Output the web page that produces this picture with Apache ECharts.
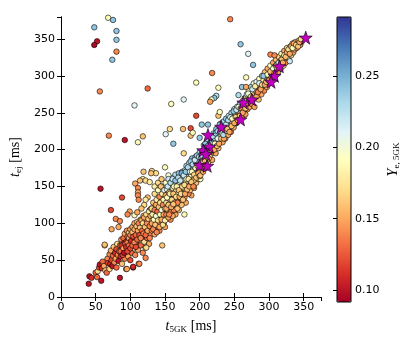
<!DOCTYPE html>
<html>
<head>
<meta charset="utf-8">
<script src="https://cdn.jsdelivr.net/npm/echarts@6/dist/echarts.min.js"></script>
<style>
  html, body { margin: 0; padding: 0; background: #fff; }
  #chart { width: 407px; height: 339px; }
</style>
</head>
<body>
<div id="chart"></div>
<script>
// [t_5GK, t_ej, Ye_5GK]
const lowBand = [
  [40,18,0.10],[41,28,0.10],[44,26,0.11],[50,33,0.13],[52,27,0.13],[53,35,0.17],[55,40,0.12],[56,44,0.10],[58,22,0.10],[59,39,0.11],
  [60,48,0.13],[62,42,0.15],[63,70,0.16],[64,36,0.16],[66,33,0.13],[67,52,0.14],[68,46,0.12],[70,38,0.17],[70,58,0.14],[71,45,0.11],
  [72,63,0.15],[73,50,0.12],[74,42,0.10],[75,56,0.13],[76,68,0.16],[77,47,0.14],[78,60,0.11],[79,52,0.15],[80,65,0.12],[80,40,0.13],
  [81,72,0.17],[82,57,0.14],[83,49,0.10],[84,62,0.13],[85,26,0.10],[85,70,0.15],[86,55,0.11],[87,78,0.14],[88,63,0.12],[88,45,0.16],
  [89,68,0.14],[90,58,0.18],[90,80,0.13],[91,73,0.11],[92,52,0.14],[92,86,0.15],[93,65,0.13],[94,38,0.14],[94,75,0.12],[95,60,0.16],
  [95,90,0.14],[96,82,0.13],[97,55,0.15],[97,70,0.11],[98,87,0.17],[99,64,0.14],[99,78,0.13],[100,92,0.15],[100,50,0.12],[101,72,0.16],
  [102,84,0.14],[102,60,0.13],[103,95,0.15],[104,40,0.10],[104,76,0.14],[105,88,0.12],[105,66,0.18],[106,100,0.15],[107,80,0.13],[107,57,0.14],
  [108,92,0.16],[109,72,0.12],[110,85,0.14],[110,102,0.17],[111,64,0.15],[112,45,0.14],[112,95,0.13],[113,78,0.16],[114,88,0.14],[115,105,0.15],
  [115,70,0.13],[116,98,0.18],[117,82,0.12],[118,92,0.15],[118,60,0.14],[119,110,0.16],[120,75,0.17],[120,100,0.13],[121,88,0.14],[122,53,0.14],
  [122,67,0.16],[123,105,0.15],[123,95,0.18],[124,80,0.13],[125,112,0.14],[126,90,0.16],[127,72,0.15],[127,100,0.17],[128,118,0.15],[129,85,0.14],
  [130,108,0.16],[130,95,0.13],[72,118,0.12],[88,135,0.12],[99,116,0.15],[106,111,0.19],[73,92,0.15],[83,95,0.15],[57,147,0.10],[95,38,0.15],
  [104,41,0.11],[113,45,0.14],[123,67,0.17],[96,112,0.14],[125,112,0.15],[63,71,0.16],[79,106,0.14],[85,103,0.14]
];
const lowFill = [
  [86,62,0.13],[87,70,0.11],[89,57,0.12],[90,66,0.15],[91,60,0.10],[93,72,0.13],[94,68,0.11],[96,74,0.14],[96,62,0.12],[98,70,0.13],
  [98,80,0.15],[100,66,0.12],[100,84,0.14],[101,76,0.11],[103,70,0.13],[103,88,0.16],[104,82,0.12],[106,74,0.14],[106,92,0.15],[108,84,0.13],
  [108,68,0.12],[109,96,0.16],[110,78,0.13],[111,90,0.15],[112,100,0.14],[113,84,0.12],[114,94,0.16],[115,80,0.14],[116,104,0.15],[117,90,0.13],
  [118,100,0.17],[119,86,0.14],[120,108,0.15],[121,95,0.16],[122,84,0.13],[123,112,0.17],[124,100,0.14],[125,90,0.15],[126,106,0.16],[127,116,0.18],
  [128,96,0.14],[129,110,0.15],[130,120,0.17],[131,90,0.14],[132,104,0.16],[133,118,0.15],[134,96,0.13],[135,110,0.17],[136,124,0.16],[137,100,0.15],
  [138,114,0.14],[139,128,0.18],[140,95,0.14],[141,110,0.16],[142,124,0.15],[143,100,0.14],[144,116,0.17],[145,132,0.16],[146,108,0.15],[147,120,0.18],
  [148,100,0.14],[149,126,0.16],[150,112,0.17],[150,138,0.18],
  [120,125,0.17],[125,135,0.16],[135,150,0.18],[140,155,0.17],[128,80,0.14],[135,85,0.15],[142,90,0.14],[150,95,0.15],[158,105,0.14],[165,112,0.15],
  [170,118,0.16],[180,128,0.15],[188,138,0.15],[145,150,0.19],[155,165,0.20],[116,120,0.16],[110,115,0.15]
];
const midBand = [
  [131,100,0.15],[131,120,0.17],[132,112,0.18],[133,92,0.14],[133,128,0.16],[134,105,0.19],[135,118,0.14],[135,140,0.17],[136,98,0.16],[137,110,0.20],
  [137,125,0.15],[138,88,0.14],[138,132,0.18],[139,116,0.13],[140,104,0.17],[140,145,0.19],[141,122,0.16],[142,95,0.15],[142,136,0.14],[143,112,0.19],
  [143,128,0.17],[144,150,0.16],[145,105,0.15],[145,118,0.20],[146,140,0.18],[146,70,0.16],[147,125,0.14],[147,98,0.17],[148,132,0.19],[148,112,0.15],
  [149,145,0.21],[150,120,0.16],[150,104,0.18],[151,138,0.15],[151,155,0.19],[152,128,0.17],[152,112,0.14],[153,146,0.20],[154,118,0.16],[154,135,0.18],
  [155,108,0.15],[155,160,0.22],[156,126,0.19],[156,142,0.16],[157,150,0.17],[158,115,0.14],[158,132,0.20],[159,156,0.23],[160,124,0.16],[160,140,0.18],
  [161,110,0.15],[161,148,0.19],[162,162,0.21],[162,130,0.17],[163,118,0.14],[164,152,0.20],[164,138,0.16],[165,126,0.18],[165,166,0.23],[166,145,0.17],
  [167,132,0.15],[167,158,0.22],[168,120,0.16],[168,150,0.19],[169,140,0.18],[170,168,0.24],[170,128,0.15],[171,155,0.20],[172,145,0.16],[172,135,0.18],
  [173,162,0.22],[174,150,0.17],[174,125,0.16],[175,170,0.23],[175,140,0.19],
  [176,158,0.21],[177,148,0.16],[178,165,0.24],[178,135,0.15],[179,172,0.22],[180,155,0.18],[180,142,0.16],[181,178,0.23],[182,162,0.20],[183,150,0.15],
  [184,170,0.25],[184,140,0.14],[185,182,0.22],[186,158,0.17],[186,145,0.16],[187,175,0.23],[188,165,0.19],[189,188,0.24],[189,152,0.15],[190,172,0.21],
  [191,160,0.16],[191,184,0.25],[192,148,0.15],[193,176,0.22],[194,165,0.18],[194,190,0.24],[195,155,0.16],[196,182,0.23],[197,170,0.19],[198,192,0.22],
  [198,160,0.15],[199,185,0.24],[200,172,0.17],[200,196,0.23],[201,160,0.19],[191,158,0.17]
];
const midFill = [
  [152,120,0.15],[153,135,0.19],[154,150,0.22],[155,125,0.16],[156,112,0.14],[157,140,0.18],[158,155,0.23],[159,122,0.15],[160,132,0.17],[161,160,0.22],
  [162,140,0.16],[163,150,0.19],[164,128,0.15],[165,158,0.24],[166,136,0.17],[167,150,0.18],[168,128,0.14],[169,162,0.23],[170,145,0.16],[171,136,0.15],
  [172,158,0.22],[173,140,0.17],[174,168,0.25],[175,150,0.18],[176,132,0.16],[177,165,0.22],[178,152,0.17],[179,140,0.15],[180,170,0.24],[181,160,0.19],
  [182,146,0.16],[183,176,0.23],[184,160,0.18],[185,150,0.15],[186,170,0.21],[187,184,0.24],[188,156,0.16],[189,170,0.19],[190,180,0.23],[191,150,0.14],
  [192,166,0.17],[193,186,0.22],[194,175,0.19],[195,162,0.16],[196,192,0.24],[197,178,0.18],[198,168,0.15],[199,190,0.23],[200,180,0.18],[200,164,0.15]
];
const upperBand = [
  [201,165,0.16],[202,188,0.22],[203,178,0.18],[204,198,0.24],[205,170,0.15],[205,186,0.20],[206,206,0.23],[207,180,0.17],[208,194,0.22],[209,175,0.15],
  [210,202,0.24],[210,188,0.19],[211,212,0.23],[212,182,0.16],[213,196,0.21],[214,208,0.25],[215,190,0.17],[216,215,0.22],[217,200,0.19],[218,186,0.15],
  [219,210,0.24],[220,196,0.16],[220,222,0.23],[221,205,0.20],[222,215,0.22],[223,195,0.15],[224,228,0.24],[225,210,0.18],[226,220,0.23],[227,202,0.16],
  [228,225,0.21],[229,212,0.15],[230,235,0.24],[230,218,0.19],[232,228,0.22],[233,210,0.15],[234,238,0.23],[235,222,0.17],[236,230,0.20],[237,215,0.14],
  [238,242,0.24],[239,226,0.16],[240,235,0.21],[241,220,0.15],[242,246,0.22],[243,230,0.17],[244,238,0.19],[245,224,0.14],[246,250,0.23],[247,236,0.16],
  [248,244,0.20],[249,230,0.15],[250,255,0.22],[251,240,0.17],[252,248,0.15],[253,236,0.14],[254,258,0.21],[255,245,0.16],[256,252,0.18],[257,240,0.15],
  [258,262,0.23],[259,250,0.16],
  [202,176,0.15],[203,192,0.23],[204,184,0.17],[206,196,0.22],[207,186,0.16],[208,208,0.24],[209,198,0.19],[211,190,0.15],[212,205,0.22],[213,188,0.16],
  [215,200,0.20],[216,210,0.24],[218,198,0.16],[219,218,0.23],[221,200,0.15],[222,208,0.19],[223,222,0.24],[225,205,0.16],[226,215,0.21],[228,208,0.15],
  [229,230,0.23],[231,215,0.16],[232,222,0.20],[234,230,0.24],[235,215,0.15],[237,225,0.18],[238,234,0.22],[240,228,0.16],[241,240,0.23],[243,224,0.15],
  [244,244,0.22],[246,232,0.16],[247,242,0.19],[249,252,0.24],[250,236,0.15],[252,244,0.17],[253,254,0.22],[255,240,0.15],[256,258,0.20],[258,246,0.16],
  [259,256,0.21]
];
const topBand = [
  [260,256,0.15],[261,244,0.14],[262,266,0.20],[263,252,0.16],[264,260,0.14],[265,270,0.18],[266,248,0.15],[267,262,0.16],[268,275,0.22],[269,255,0.14],
  [270,266,0.17],[271,280,0.19],[272,258,0.15],[273,272,0.16],[274,285,0.23],[275,262,0.14],[276,276,0.18],[277,268,0.15],[278,290,0.20],[279,258,0.15],
  [280,280,0.16],[281,270,0.14],[282,292,0.21],[283,276,0.15],[284,285,0.17],[285,268,0.16],[286,296,0.19],[287,282,0.14],[288,290,0.16],[289,275,0.15],
  [290,300,0.22],[291,285,0.15],[292,294,0.18],[293,280,0.14],[294,305,0.16],[295,290,0.15],[296,298,0.20],[297,285,0.16],[298,310,0.15],[299,295,0.14],
  [300,302,0.17],[301,290,0.15],[302,314,0.19],[303,298,0.16],[304,306,0.14],[305,295,0.18],[306,318,0.15],[307,304,0.16],[308,312,0.21],[309,300,0.15],
  [310,322,0.16],[311,308,0.14],[312,316,0.18],[313,305,0.15],[314,326,0.17],[315,312,0.15],[316,320,0.14],[317,310,0.16],[318,330,0.19],[319,318,0.15],
  [320,325,0.16],[321,314,0.17],[322,334,0.15],[323,322,0.18],[324,318,0.14],[325,330,0.16],[326,338,0.17],[327,324,0.15],[328,325,0.19],[329,332,0.16],
  [330,320,0.22],[331,340,0.15],[332,328,0.17],[333,336,0.14],[334,344,0.16],[335,332,0.15],[336,340,0.18],[337,336,0.15],[338,346,0.16],[340,338,0.14],
  [341,344,0.15],[343,348,0.17],[345,342,0.15],[347,346,0.16],
  [262,250,0.15],[264,266,0.21],[266,256,0.16],[268,262,0.15],[270,276,0.20],[272,266,0.14],[274,272,0.17],[276,282,0.22],[278,270,0.15],[280,286,0.18],
  [282,272,0.15],[284,278,0.14],[286,290,0.21],[288,282,0.15],[290,288,0.17],[292,300,0.24],[294,288,0.15],[296,292,0.16],[298,302,0.19],[300,294,0.15],
  [302,306,0.16],[304,298,0.15],[306,310,0.20],[308,304,0.14],[310,314,0.17],[312,310,0.15],[314,318,0.22],[316,314,0.15],[318,322,0.16],[320,318,0.15],
  [322,328,0.19],[324,326,0.16],[326,332,0.15],[328,336,0.17],[330,330,0.15],[332,340,0.16],[334,338,0.19],[336,344,0.15],[339,342,0.17],[342,340,0.16],
  [344,346,0.15],[346,350,0.17]
];
const outlierPts = [
  [162,208,0.24],[177,195,0.17],[151,221,0.21],[157,228,0.17],[118,218,0.16],[111,210,0.19],[92,213,0.10],[69,219,0.14],[176,228,0.16],[187,229,0.12],
  [187,219,0.16],[190,223,0.19],[195,246,0.12],[195,291,0.19],[177,268,0.21],[159,262,0.19],[106,260,0.21],[125,283,0.13],[56,279,0.14],[218,304,0.14],
  [227,284,0.19],[224,273,0.23],[221,270,0.24],[217,268,0.19],[215,265,0.15],[203,234,0.24],[212,234,0.24],[227,246,0.16],[229,251,0.19],[244,377,0.14],
  [259,343,0.24],[270,330,0.21],[277,315,0.24],[302,329,0.14],[308,328,0.14],[267,298,0.19],[261,285,0.24],[267,285,0.15],[256,274,0.23],[48,366,0.24],
  [68,379,0.19],[75,376,0.24],[80,361,0.24],[80,349,0.24],[52,347,0.10],[48,342,0.095],[80,333,0.14],[74,322,0.24],[200,216,0.24],[229,234,0.24],
  [226,225,0.23],[234,220,0.23],[178,112,0.19],[145,160,0.16],[150,176,0.19],[131,171,0.17],[137,168,0.17],[130,168,0.16],[119,170,0.16],[118,160,0.18],
  [107,154,0.15],[114,158,0.16],[122,158,0.17],[128,156,0.18],[111,148,0.14],[111,142,0.15],[111,138,0.14],[112,132,0.14],[122,132,0.18],[162,126,0.16]
];
const stars = [
  [353,352],[315,313],[308,300],[303,292],[275,268],[263,264],[259,241],[231,231],[212,220],[214,204],[205,199],[209,194],[200,179],[211,178]
];
const cbarTicks = [0.10, 0.15, 0.20, 0.25];
const yeMin = 0.0916, yeMax = 0.2914;
const rdylbu = ['#a50026','#d73027','#f46d43','#fdae61','#fee090','#ffffbf','#e0f3f8','#abd9e9','#74add1','#4575b4','#313695'];

const points = lowBand.concat(lowFill, midBand, midFill, upperBand, topBand, outlierPts);
const starPath = 'path://M0,-10L2.35,-3.24L9.51,-3.09L3.8,1.24L5.88,8.09L0,4L-5.88,8.09L-3.8,1.24L-9.51,-3.09L-2.35,-3.24Z';

const serif = 'Liberation Serif';
const tickFont = { fontFamily: 'DejaVu Sans', fontSize: 11, color: '#000' };
const frameLine = { show: true, lineStyle: { color: '#000', width: 1 } };
const inTick = { show: true, inside: true, length: 4, lineStyle: { color: '#000' } };
const nameRich = {
  i: { fontFamily: serif, fontStyle: 'italic', fontSize: 14, color: '#000', lineHeight: 16 },
  s: { fontFamily: serif, fontSize: 9, color: '#000', verticalAlign: 'bottom', lineHeight: 11 },
  n: { fontFamily: serif, fontSize: 14, color: '#000', lineHeight: 16 }
};

const chart = echarts.init(document.getElementById('chart'), null, { renderer: 'canvas' });
chart.setOption({
  animation: false,
  backgroundColor: '#fff',
  textStyle: { fontFamily: 'DejaVu Sans' },
  grid: [
    { left: 61, top: 17, width: 260, height: 284 },
    { left: 337, top: 17, width: 14, height: 285, show: true, borderColor: '#000', borderWidth: 1, backgroundColor: 'transparent', z: 6 }
  ],
  xAxis: [
    { gridIndex: 0, type: 'value', min: 0, max: 375, interval: 50,
      name: '{i|t}{s|5GK} {n|[ms]}', nameLocation: 'middle', nameGap: 21,
      nameTextStyle: { rich: nameRich },
      axisLine: frameLine, axisTick: inTick, splitLine: { show: false },
      axisLabel: Object.assign({ margin: 5, showMaxLabel: false }, tickFont) },
    { gridIndex: 0, type: 'value', position: 'top', min: 0, max: 375, interval: 50,
      axisLine: frameLine, axisTick: inTick, splitLine: { show: false }, axisLabel: { show: false } },
    { gridIndex: 1, type: 'value', min: 0, max: 1, show: false }
  ],
  yAxis: [
    { gridIndex: 0, type: 'value', min: 0, max: 380, interval: 50,
      name: '{i|t}{s|ej} {n|[ms]}', nameLocation: 'middle', nameGap: 33, nameRotate: 90,
      nameTextStyle: { rich: nameRich },
      axisLine: frameLine, axisTick: inTick, splitLine: { show: false },
      axisLabel: Object.assign({ margin: 6, showMaxLabel: false }, tickFont) },
    { gridIndex: 0, type: 'value', position: 'right', min: 0, max: 380, interval: 50,
      axisLine: frameLine, axisTick: inTick, splitLine: { show: false }, axisLabel: { show: false } },
    { gridIndex: 1, type: 'value', position: 'right', min: yeMin, max: yeMax,
      name: '{i|Y}{s|e, 5GK}', nameLocation: 'middle', nameGap: 34, nameRotate: 90,
      nameTextStyle: { rich: nameRich },
      axisLine: { show: false }, splitLine: { show: false },
      axisTick: { show: true, inside: true, length: 4, lineStyle: { color: '#000' }, customValues: cbarTicks },
      axisLabel: Object.assign({ margin: 4, customValues: cbarTicks, formatter: v => v.toFixed(2) }, tickFont) }
  ],
  visualMap: {
    type: 'continuous', seriesIndex: 0, dimension: 2,
    min: yeMin, max: yeMax, calculable: false, realtime: false,
    left: 337, top: 17, itemWidth: 14, itemHeight: 285, padding: 0,
    text: null, showLabel: false, hoverLink: false,
    inRange: { color: rdylbu }
  },
  series: [
    { type: 'scatter', xAxisIndex: 0, yAxisIndex: 0, data: points,
      symbol: 'circle', symbolSize: 5.5,
      itemStyle: { borderColor: '#000', borderWidth: 0.6, opacity: 1 }, z: 2 },
    { type: 'scatter', xAxisIndex: 0, yAxisIndex: 0, data: stars,
      symbol: starPath, symbolSize: 13,
      itemStyle: { color: '#bf00bf', borderColor: '#000', borderWidth: 0.6, opacity: 1 }, z: 3 }
  ]
});
</script>
</body>
</html>
